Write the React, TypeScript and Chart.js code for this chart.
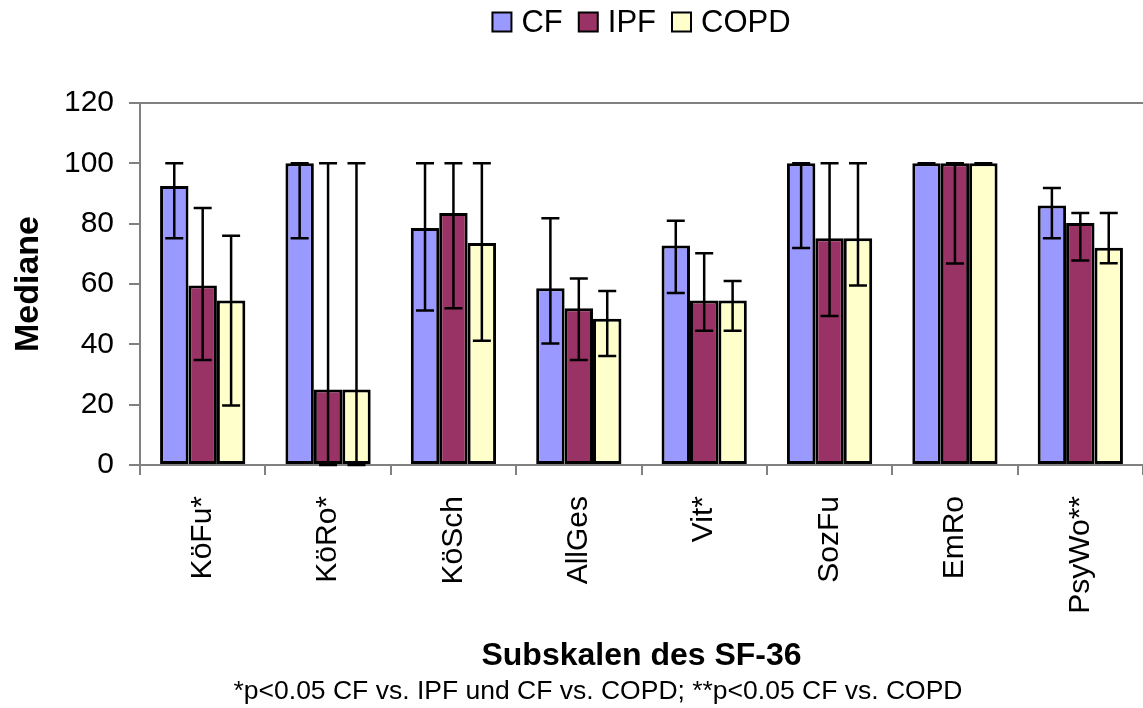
import React, { useEffect, useRef } from "react";
import { Chart, registerables } from "chart.js";

Chart.register(...registerables);

const categories = ["KöFu*", "KöRo*", "KöSch", "AllGes", "Vit*", "SozFu", "EmRo", "PsyWo**"];
const seriesNames = ["CF", "IPF", "COPD"];
const cfValues = [92.5, 100, 78.6, 58.6, 72.8, 100, 100, 86];
const cfLow = [75.2, 75.2, 51.2, 40.3, 57, 71.9, 100, 75.2];
const cfHigh = [100, 100, 100, 81.8, 81, 100, 100, 91.8];
const ipfValues = [59.5, 25, 83.5, 52, 54.5, 75.2, 100, 80.2];
const ipfLow = [34.8, 0, 52, 34.8, 44.5, 49.4, 66.8, 67.8];
const ipfHigh = [85.2, 100, 100, 61.8, 70.2, 100, 100, 83.5];
const copdValues = [54.5, 25, 73.6, 48.5, 54.5, 75.2, 100, 72];
const copdLow = [19.7, 0, 41.2, 36.1, 44.5, 59.5, 100, 66.9];
const copdHigh = [76, 100, 100, 57.7, 61, 100, 100, 83.5];
const yTicks = [0, 20, 40, 60, 80, 100, 120];
const yTitle = "Mediane";
const xTitle = "Subskalen des SF-36";
const footnote = "*p<0.05 CF vs. IPF und CF vs. COPD; **p<0.05 CF vs. COPD";

const colors = ["#9999FF", "#993366", "#FFFFCC"];
const FONT = "'Liberation Sans', Arial, Helvetica, sans-serif";

export default function App() {
  const ref = useRef<HTMLCanvasElement | null>(null);
  useEffect(() => {
    const canvas = ref.current;
    if (!canvas) return;
    const values = [cfValues, ipfValues, copdValues];
    const lows = [cfLow, ipfLow, copdLow];
    const highs = [cfHigh, ipfHigh, copdHigh];

    const extras = {
      id: "extras",
      afterDatasetsDraw(chart: any) {
        const ctx = chart.ctx;
        const ys = chart.scales.y;
        const area = chart.chartArea;
        ctx.save();
        ctx.strokeStyle = "#000";
        ctx.lineWidth = 2.5;
        for (let d = 0; d < 3; d++) {
          const meta = chart.getDatasetMeta(d);
          meta.data.forEach((bar: any, i: number) => {
            const x = bar.x;
            const yl = ys.getPixelForValue(lows[d][i]);
            const yh = ys.getPixelForValue(highs[d][i]);
            const cw = 9;
            ctx.beginPath();
            ctx.moveTo(x, yh);
            ctx.lineTo(x, yl);
            ctx.moveTo(x - cw, yh);
            ctx.lineTo(x + cw, yh);
            ctx.moveTo(x - cw, yl);
            ctx.lineTo(x + cw, yl);
            ctx.stroke();
          });
        }
        ctx.strokeStyle = "#808080";
        ctx.lineWidth = 2;
        ctx.beginPath();
        ctx.moveTo(area.left, area.top);
        ctx.lineTo(area.right, area.top);
        ctx.stroke();
        ctx.restore();
      },
      afterDraw(chart: any) {
        const ctx = chart.ctx;
        const area = chart.chartArea;
        const cx = (area.left + area.right) / 2;
        ctx.save();
        // legend
        ctx.font = `31px ${FONT}`;
        ctx.textBaseline = "middle";
        ctx.textAlign = "left";
        const box = 19;
        const gapText = 10;
        const gapItem = 16;
        let total = 0;
        seriesNames.forEach((n, i) => {
          total += box + gapText + ctx.measureText(n).width;
          if (i < seriesNames.length - 1) total += gapItem;
        });
        let x = cx - total / 2;
        const ly = 22;
        seriesNames.forEach((n, i) => {
          ctx.fillStyle = colors[i];
          ctx.fillRect(x, ly - box / 2, box, box);
          ctx.strokeStyle = "#000";
          ctx.lineWidth = 2;
          ctx.strokeRect(x, ly - box / 2, box, box);
          x += box + gapText;
          ctx.fillStyle = "#000";
          ctx.fillText(n, x, ly + 1);
          x += ctx.measureText(n).width + gapItem;
        });
        // y title
        ctx.save();
        ctx.font = `bold 34px ${FONT}`;
        ctx.textAlign = "center";
        ctx.textBaseline = "middle";
        ctx.translate(29, (area.top + area.bottom) / 2);
        ctx.rotate(-Math.PI / 2);
        ctx.fillText(yTitle, 0, 0);
        ctx.restore();
        // x title
        ctx.font = `bold 32px ${FONT}`;
        ctx.textAlign = "center";
        ctx.textBaseline = "middle";
        ctx.fillStyle = "#000";
        ctx.fillText(xTitle, cx, 656);
        // footnote
        ctx.font = `26.5px ${FONT}`;
        ctx.fillText(footnote, 598, 692);
        ctx.restore();
      },
    };

    const chart = new Chart(canvas, {
      type: "bar",
      data: {
        labels: categories,
        datasets: seriesNames.map((n, i) => ({
          label: n,
          data: values[i],
          backgroundColor: colors[i],
          borderColor: "#000",
          borderWidth: 3,
          borderSkipped: false,
          categoryPercentage: 0.68,
          barPercentage: 1,
        })),
      },
      options: {
        animation: false,
        responsive: false,
        maintainAspectRatio: false,
        layout: { padding: { top: 103, right: -5, bottom: 0, left: 0 } },
        plugins: {
          legend: { display: false },
          tooltip: { enabled: false },
        },
        scales: {
          x: {
            grid: {
              display: true,
              drawOnChartArea: false,
              drawTicks: true,
              tickLength: 10,
              color: "#808080",
              lineWidth: 2,
              offset: true,
            },
            border: { display: true, color: "#808080", width: 2 },
            ticks: {
              color: "#000",
              font: { family: FONT, size: 30 },
              minRotation: 90,
              maxRotation: 90,
              padding: 21,
              autoSkip: false,
            },
            afterFit(scale: any) {
              scale.height = 243;
            },
          },
          y: {
            min: 0,
            max: 120,
            afterBuildTicks(scale: any) {
              scale.ticks = yTicks.map((v) => ({ value: v }));
            },
            grid: {
              display: true,
              drawOnChartArea: false,
              drawTicks: true,
              tickLength: 11,
              color: "#808080",
              lineWidth: 2,
            },
            border: { display: true, color: "#808080", width: 2 },
            ticks: {
              color: "#000",
              font: { family: FONT, size: 30 },
              padding: 15,
            },
            afterFit(scale: any) {
              scale.width = 140;
            },
          },
        },
      },
      plugins: [extras],
    });
    return () => chart.destroy();
  }, []);

  return (
    <div style={{ position: "fixed", left: 0, top: 0, width: 1143, height: 708, background: "#fff" }}>
      <canvas ref={ref} width={1143} height={708} style={{ width: 1143, height: 708 }} />
    </div>
  );
}
